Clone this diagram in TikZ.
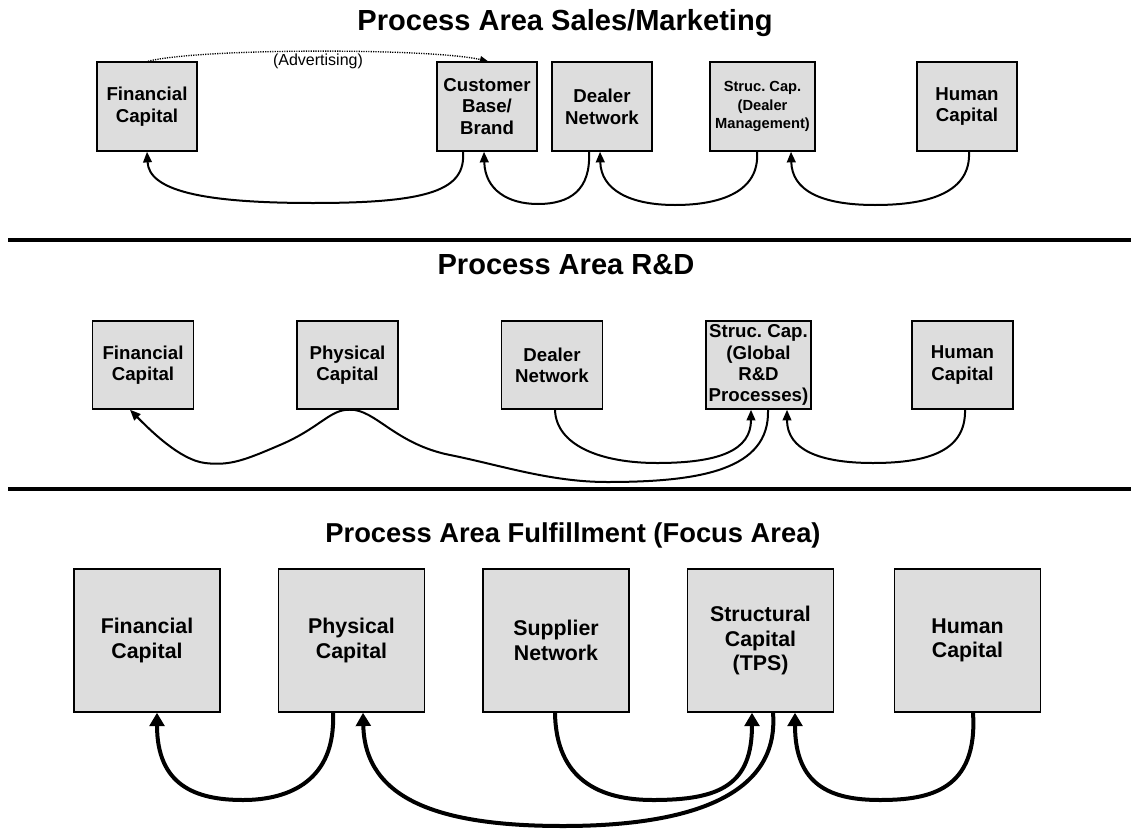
\documentclass[tikz,border=0pt]{standalone}
\usepackage{fontspec}
\setmainfont{Liberation Sans}
\usetikzlibrary{arrows.meta,calc}
\definecolor{boxgray}{HTML}{DDDDDD}
\frenchspacing
\begin{document}
\begin{tikzpicture}[x=0.75pt,y=-0.75pt,
  capbox/.style={draw=black, line width=1.1pt, fill=boxgray, inner sep=0pt, align=center},
  smallbox/.style={capbox, minimum width=75pt, minimum height=66.75pt,
    font=\bfseries\fontsize{14}{16.3}\selectfont},
  midbox/.style={capbox, minimum width=75.75pt, minimum height=66pt,
    font=\bfseries\fontsize{14}{15.8}\selectfont},
  bigbox/.style={capbox, minimum width=109.5pt, minimum height=107.25pt,
    font=\bfseries\fontsize{16}{18.5}\selectfont},
  areatitle/.style={anchor=base, font=\bfseries\fontsize{21.8}{26}\selectfont},
  sepline/.style={line width=3pt},
  thinflow/.style={line width=1.5pt, -{Triangle[length=8pt,width=6.5pt]}},
  thinlink/.style={line width=1.5pt},
  thickflow/.style={line width=3pt, -{Triangle[length=10pt,width=11pt]}},
  dotflow/.style={line width=1pt, dash pattern=on 0.9pt off 0.9pt, -{Triangle[length=6pt,width=5pt]}}
]
\useasboundingbox (0,0) rectangle (1131,828);

% ---------- Sales / Marketing ----------
\node[areatitle] (h1) at (565,30) {Process Area Sales/Marketing};
\node[smallbox] (t1) at (147,106.5) {Financial\\Capital};
\node[smallbox] (t2) at (487,106.5) {Customer\\Base/\\Brand};
\node[smallbox] (t3) at (602,106.5) {Dealer\\Network};
\node[smallbox, minimum width=78.75pt, font=\bfseries\fontsize{11}{13.8}\selectfont]
  (t4) at (762.5,106.5) {Struc. Cap.\\(Dealer\\Management)};
\node[smallbox] (t5) at (967,106.5) {Human\\Capital};

\node[font=\fontsize{12}{14}\selectfont] (adv) at (318,61) {(Advertising)};
\draw[dotflow] ($(t1.north)+(1,0)$) .. controls (200,48) and (430,48) .. ($(t2.north)+(1,0)$);

\draw[thinflow] ($(t2.south)+(-24,0)$) .. controls (466,190) and (430,203) .. (313,203)
  .. controls (200,203) and (149,190) .. (t1.south);
\draw[thinflow] ($(t3.south)+(-13,0)$) .. controls (591,190) and (570,204) .. (538,204)
  .. controls (508,204) and (485,190) .. ($(t2.south)+(-3,0)$);
\draw[thinflow] ($(t4.south)+(-5.5,0)$) .. controls (760,192) and (720,205) .. (675,205)
  .. controls (630,205) and (601,190) .. ($(t3.south)+(-2,0)$);
\draw[thinflow] ($(t5.south)+(2,0)$) .. controls (971,192) and (930,205) .. (875,205)
  .. controls (820,205) and (792,190) .. ($(t4.south)+(28.5,0)$);

\draw[sepline] (8,240) -- (1131,240);

% ---------- R&D ----------
\node[areatitle] (h2) at (566,274) {Process Area R\&D};
\node[midbox] (m1) at (143,365) {Financial\\Capital};
\node[midbox] (m2) at (347.5,365) {Physical\\Capital};
\node[midbox] (m3) at (552,365) {Dealer\\Network};
\node[midbox, minimum width=78.75pt] (m4) at (758.5,365) {Struc. Cap.\\(Global\\R\&D\\Processes)};
\node[midbox] (m5) at (962.5,365) {Human\\Capital};

\draw[thinlink] ($(m4.south)+(9.5,0)$) .. controls (770,470) and (700,482) .. (607,482)
  .. controls (550,482) and (500,465) .. (450,455)
  .. controls (395,444) and (375,409) .. ($(m2.south)+(2.5,0)$);
\draw[thinflow] ($(m2.south)+(2.5,0)$) .. controls (330,409) and (320,428) .. (280,445)
  .. controls (245,460) and (230,466) .. (205,463)
  .. controls (180,460) and (150,430) .. ($(m1.south)+(-13,0)$);
\draw[thinflow] ($(m3.south)+(3,0)$) .. controls (556,445) and (600,463) .. (657,463)
  .. controls (720,463) and (751,450) .. ($(m4.south)+(-7.5,0)$);
\draw[thinflow] ($(m5.south)+(2.5,0)$) .. controls (966,450) and (930,463) .. (873,463)
  .. controls (820,463) and (787,450) .. ($(m4.south)+(28.5,0)$);

\draw[sepline] (8,489) -- (1131,489);

% ---------- Fulfillment ----------
\node[areatitle, font=\bfseries\fontsize{20.5}{24}\selectfont] (h3) at (573,542) {Process Area Fulfillment (Focus Area)};
\node[bigbox] (b1) at (147,640.5) {Financial\\Capital};
\node[bigbox] (b2) at (351.5,640.5) {Physical\\Capital};
\node[bigbox] (b3) at (556,640.5) {Supplier\\Network};
\node[bigbox] (b4) at (760.5,640.5) {Structural\\Capital\\(TPS)};
\node[bigbox] (b5) at (967.5,640.5) {Human\\Capital};

\draw[thickflow] ($(b2.south)+(-18.5,0)$) .. controls (336,780) and (290,800) .. (243,800)
  .. controls (195,800) and (157,785) .. ($(b1.south)+(10,0)$);
\draw[thickflow] ($(b4.south)+(12.5,0)$) .. controls (780,800) and (680,826) .. (563,826)
  .. controls (440,826) and (365,800) .. ($(b2.south)+(11.5,0)$);
\draw[thickflow] ($(b3.south)+(-1,0)$) .. controls (556,780) and (600,800) .. (653,800)
  .. controls (720,800) and (752,785) .. ($(b4.south)+(-8.5,0)$);
\draw[thickflow] ($(b5.south)+(5.5,0)$) .. controls (978,790) and (930,800) .. (880,800)
  .. controls (830,800) and (795,785) .. ($(b4.south)+(34.5,0)$);
\end{tikzpicture}
\end{document}
